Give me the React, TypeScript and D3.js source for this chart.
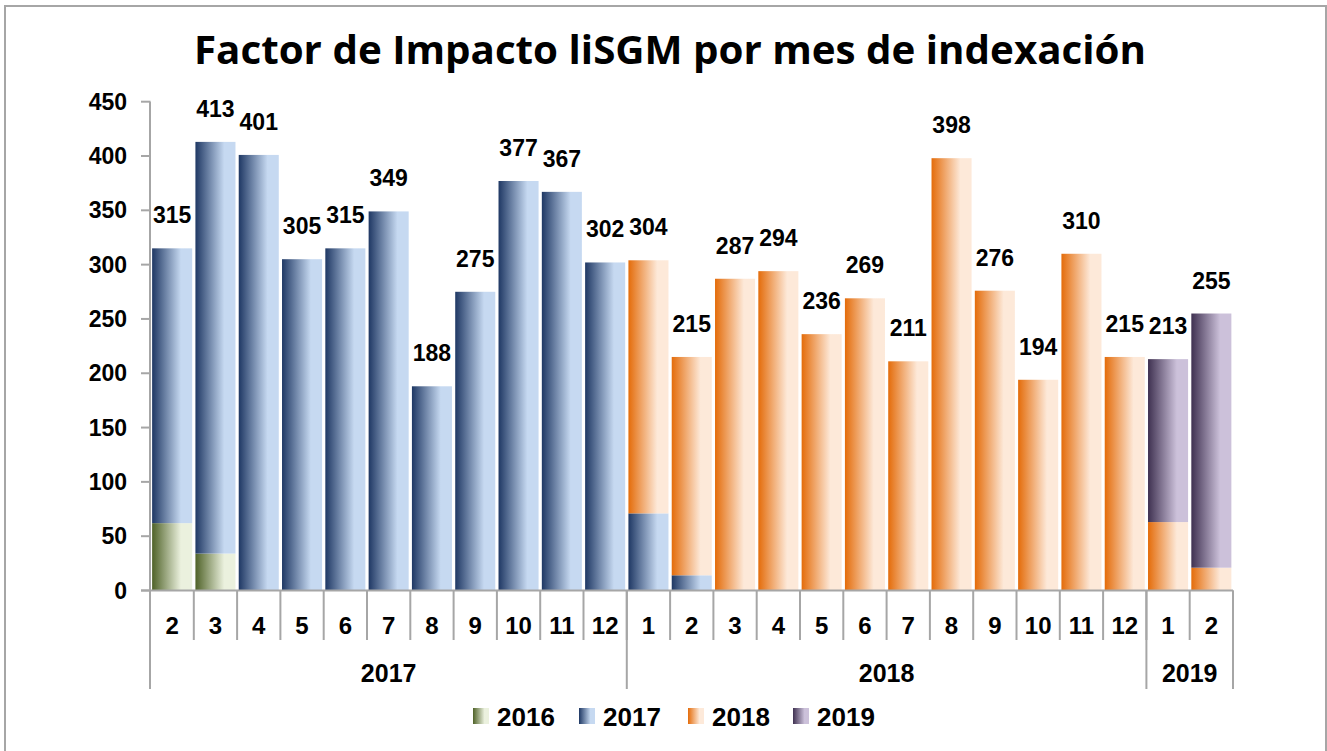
import React from "react";
import * as d3 from "d3";

const monthLabels = ["2","3","4","5","6","7","8","9","10","11","12","1","2","3","4","5","6","7","8","9","10","11","12","1","2"];
const yearGroups = [
  { year: "2017", start: 0, end: 11 },
  { year: "2018", start: 11, end: 23 },
  { year: "2019", start: 23, end: 25 },
];
const totals = [315,413,401,305,315,349,188,275,377,367,302,304,215,287,294,236,269,211,398,276,194,310,215,213,255];
const s2016 = [62,34,0,0,0,0,0,0,0,0,0,0,0,0,0,0,0,0,0,0,0,0,0,0,0];
const s2017 = [253,379,401,305,315,349,188,275,377,367,302,71,14,0,0,0,0,0,0,0,0,0,0,0,0];
const s2018 = [0,0,0,0,0,0,0,0,0,0,0,233,201,287,294,236,269,211,398,276,194,310,215,63,21];
const s2019 = [0,0,0,0,0,0,0,0,0,0,0,0,0,0,0,0,0,0,0,0,0,0,0,150,234];
const seriesNames = ["2016","2017","2018","2019"];
const seriesValues = [s2016, s2017, s2018, s2019];
const yTicks = [0,50,100,150,200,250,300,350,400,450];

const gradColors: [string, string][] = [
  ["#4f6228", "#ebf1de"],
  ["#1f3864", "#c6d9f1"],
  ["#e46c0a", "#fde9d9"],
  ["#3f3151", "#ccc1da"],
];

export default function App() {
  const W = 1327, H = 751;
  const x0 = 150.5, x1 = 1233;
  const yTop = 101.7, yBase = 590.5;
  const x = d3.scaleBand<number>().domain(d3.range(monthLabels.length)).range([x0, x1]).paddingInner(0.075).paddingOuter(0.0375);
  const y = d3.scaleLinear().domain([0, 450]).range([yBase, yTop]);
  const step = (x1 - x0) / monthLabels.length;
  const catEdge = (i: number) => x0 + i * step;
  const narrow = "'Liberation Sans Narrow', 'Arial Narrow', Arial, sans-serif";
  const axisColor = "#a6a6a6";

  const rows = monthLabels.map((_, i) => {
    const obj: any = { i };
    seriesNames.forEach((s, k) => (obj[s] = seriesValues[k][i]));
    return obj;
  });
  const stacked = d3.stack<any>().keys(seriesNames)(rows);

  const legendX = [473, 579, 688, 793];

  return (
    <svg width={W} height={H} style={{ position: "absolute", left: 0, top: 0, background: "#fff" }}>
      <defs>
        {gradColors.map(([a, b], k) => (
          <linearGradient key={k} id={`g${k}`} x1="0" x2="1" y1="0" y2="0">
            <stop offset="0" stopColor={a} />
            <stop offset="0.72" stopColor={b} />
            <stop offset="1" stopColor={b} />
          </linearGradient>
        ))}
      </defs>
      <rect x={5} y={6} width={1321} height={760} fill="#fff" stroke="#a6a6a6" strokeWidth={2} />
      <text x={670} y={64} textAnchor="middle" fontFamily="'Open Sans', sans-serif" fontWeight="bold" fontSize={40} textLength={952} lengthAdjust="spacingAndGlyphs" fill="#000">
        Factor de Impacto liSGM por mes de indexación
      </text>

      {/* y axis */}
      <line x1={x0 - 0.5} x2={x0 - 0.5} y1={yTop} y2={689} stroke={axisColor} strokeWidth={2} />
      {yTicks.map((t) => (
        <g key={t}>
          <line x1={141} x2={x0} y1={y(t)} y2={y(t)} stroke={axisColor} strokeWidth={2} />
          <text x={127} y={y(t) + 8} textAnchor="end" fontFamily={narrow} fontWeight="bold" fontSize={23} fill="#000">{t}</text>
        </g>
      ))}

      {/* bars */}
      {stacked.map((layer, k) => (
        <g key={layer.key} fill={`url(#g${k})`}>
          {layer.map((d, i) =>
            d[1] - d[0] > 0 ? (
              <rect key={i} x={x(i)!} width={x.bandwidth()} y={y(d[1])} height={y(d[0]) - y(d[1])} />
            ) : null
          )}
        </g>
      ))}

      {/* value labels */}
      {totals.map((v, i) => (
        <text key={i} x={x(i)! + x.bandwidth() / 2} y={y(v) - 25} textAnchor="middle" fontFamily={narrow} fontWeight="bold" fontSize={23} fill="#000">{v}</text>
      ))}

      {/* x axis */}
      <line x1={141} x2={x1} y1={yBase} y2={yBase} stroke={axisColor} strokeWidth={2} />
      {monthLabels.map((m, i) => (
        <g key={i}>
          <line x1={catEdge(i + 1)} x2={catEdge(i + 1)} y1={yBase} y2={640} stroke={axisColor} strokeWidth={2} />
          <text x={catEdge(i) + step / 2} y={634} textAnchor="middle" fontFamily={narrow} fontWeight="bold" fontSize={24} fill="#000">{m}</text>
        </g>
      ))}
      {yearGroups.map((g) => (
        <g key={g.year}>
          <line x1={catEdge(g.end)} x2={catEdge(g.end)} y1={yBase} y2={689} stroke={axisColor} strokeWidth={2} />
          <text x={(catEdge(g.start) + catEdge(g.end)) / 2} y={682} textAnchor="middle" fontFamily={narrow} fontWeight="bold" fontSize={25} fill="#000">{g.year}</text>
        </g>
      ))}

      {/* legend */}
      {seriesNames.map((s, k) => (
        <g key={s}>
          <rect x={legendX[k]} y={708} width={16} height={16} fill={`url(#g${k})`} />
          <text x={legendX[k] + 24} y={726} fontFamily="'Liberation Sans', Arial, sans-serif" fontWeight="bold" fontSize={26} fill="#000">{s}</text>
        </g>
      ))}
    </svg>
  );
}
